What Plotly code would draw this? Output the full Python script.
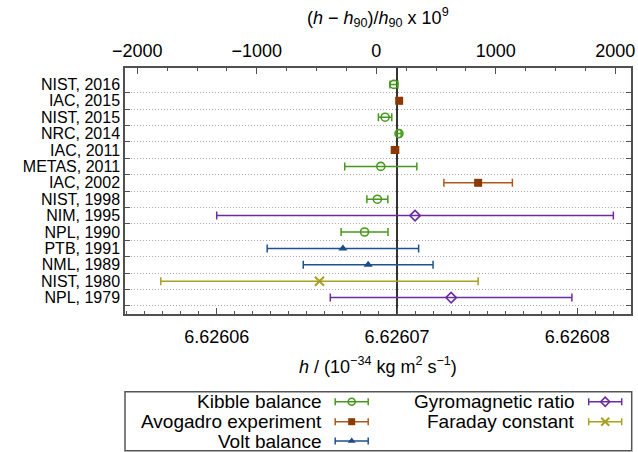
import plotly.graph_objects as go

# ---------------- data ----------------
labels = ["NIST, 2016", "IAC, 2015", "NIST, 2015", "NRC, 2014", "IAC, 2011",
          "METAS, 2011", "IAC, 2002", "NIST, 1998", "NIM, 1995", "NPL, 1990",
          "PTB, 1991", "NML, 1989", "NIST, 1980", "NPL, 1979"]
methods = ["kibble", "avogadro", "kibble", "kibble", "avogadro",
           "kibble", "avogadro", "kibble", "gyro", "kibble",
           "volt", "volt", "faraday", "gyro"]
# h in units of 1e-34 kg m^2 s^-1
h_values = [6.62606983, 6.62607012, 6.62606934, 6.62607011, 6.62606989,
            6.6260691, 6.6260745, 6.62606891, 6.6260710, 6.6260682,
            6.6260670, 6.6260684, 6.6260657, 6.6260730]
h_unc = [0.00000022, 0.00000012, 0.00000037, 0.00000012, 0.00000020,
         0.0000020, 0.0000019, 0.00000058, 0.0000110, 0.0000013,
         0.0000042, 0.0000036, 0.0000088, 0.0000067]
h90 = 6.62606885          # conventional value from K_J-90, R_K-90
ref_value = 6.62607       # vertical reference line
bottom_ticks = [6.62606, 6.62607, 6.62608]
top_ticks = [-2000, -1000, 0, 1000, 2000]

method_order = ["kibble", "avogadro", "volt", "gyro", "faraday"]
method_names = {"kibble": "Kibble balance", "avogadro": "Avogadro experiment",
                "volt": "Volt balance", "gyro": "Gyromagnetic ratio",
                "faraday": "Faraday constant"}

# ---------------- styles ----------------
styles = {
    "kibble":   dict(bar="#47981e", symbol="circle-open", size=8, fill="#47981e", lw=1.6),
    "avogadro": dict(bar="#b0581a", symbol="square", size=8, fill="#8a3a02", lw=0),
    "volt":     dict(bar="#21508f", symbol="triangle-up", size=8, fill="#1d4a88", lw=0),
    "gyro":     dict(bar="#6a2ca0", symbol="diamond-open", size=8, fill="#6a2ca0", lw=1.6),
    "faraday":  dict(bar="#a8a020", symbol="x-thin-open", size=9, fill="#a8a020", lw=2),
}

W, H = 638, 452
FL, FR, FT, FB = 125, 631, 68, 314     # frame in pixels
FONT = "Liberation Sans, Arial, sans-serif"

x_range = [6.626054914, 6.626082978]
x2_range = [(v - h90) / h90 * 1e9 for v in x_range]
y_range = [14.0, -1.0]
grid_vals = [i + 0.5 for i in range(len(labels))]

fig = go.Figure()

for m in method_order:
    idx = [i for i, mm in enumerate(methods) if mm == m]
    st = styles[m]
    fig.add_trace(go.Scatter(
        x=[h_values[i] for i in idx],
        y=idx,
        mode="markers",
        marker=dict(symbol=st["symbol"], size=st["size"], color=st["fill"],
                    line=dict(color=st["fill"], width=st["lw"])),
        error_x=dict(type="data", array=[h_unc[i] for i in idx], visible=True,
                     color=st["bar"], thickness=1.5, width=4),
        showlegend=False, hoverinfo="skip",
    ))

# dummy traces to activate top and right axes
fig.add_trace(go.Scatter(x=x2_range, y=[None, None], xaxis="x2", yaxis="y",
                         mode="markers", showlegend=False, hoverinfo="skip"))
fig.add_trace(go.Scatter(x=[None], y=[None], xaxis="x", yaxis="y4",
                         mode="markers", showlegend=False, hoverinfo="skip"))

# ---------------- custom legend (gnuplot style: text then sample) ----------------
leg_rows = [401.7, 421.7, 441.0]
leg_cols = [(324, 351.7), (577.3, 605.2)]
leg_slots = {"kibble": (0, 0), "avogadro": (0, 1), "volt": (0, 2),
             "gyro": (1, 0), "faraday": (1, 1)}
annotations = []
for m in method_order:
    c, r = leg_slots[m]
    tx, sx = leg_cols[c]
    y = leg_rows[r]
    st = styles[m]
    fig.add_trace(go.Scatter(
        x=[sx], y=[y], xaxis="x3", yaxis="y3", mode="markers",
        marker=dict(symbol=st["symbol"], size=st["size"] - 1, color=st["fill"],
                    line=dict(color=st["fill"], width=st["lw"])),
        error_x=dict(type="constant", value=16.5, visible=True, color=st["bar"],
                     thickness=1.5, width=3.5),
        showlegend=False, hoverinfo="skip"))
    annotations.append(dict(x=tx / W, y=1 - y / H, xref="paper", yref="paper",
                            text=method_names[m], showarrow=False,
                            xanchor="right", yanchor="middle",
                            font=dict(size=19, color="black", family=FONT)))

# axis titles
annotations.append(dict(x=378 / W, y=1 - 18 / H, xref="paper", yref="paper",
                        text="(<i>h</i> \u2212 <i>h</i><sub>90</sub>)/<i>h</i><sub>90</sub> x 10<sup>9</sup>",
                        showarrow=False, xanchor="center", yanchor="middle",
                        font=dict(size=18, color="black", family=FONT)))
annotations.append(dict(x=378 / W, y=1 - 365 / H, xref="paper", yref="paper",
                        text="<i>h</i> / (10<sup>\u221234</sup> kg m<sup>2</sup> s<sup>\u22121</sup>)",
                        showarrow=False, xanchor="center", yanchor="middle",
                        font=dict(size=18, color="black", family=FONT)))

shapes = [
    dict(type="line", xref="x", yref="paper", x0=ref_value, x1=ref_value,
         y0=1 - FB / H, y1=1 - FT / H, line=dict(color="#333333", width=2), layer="below"),
    dict(type="rect", xref="paper", yref="paper", x0=FL / W, x1=631.7 / W,
         y0=1 - 450.7 / H, y1=1 - 391.7 / H, line=dict(color="#555555", width=1.5)),
]

frame_col = "#505050"
ydom = [1 - FB / H, 1 - FT / H]
fig.update_layout(
    width=W, height=H, autosize=False,
    margin=dict(l=0, r=0, t=0, b=0, pad=0),
    paper_bgcolor="white", plot_bgcolor="rgba(0,0,0,0)",
    font=dict(family=FONT, size=18, color="black"),
    showlegend=False,
    xaxis=dict(domain=[FL / W, FR / W], range=x_range, anchor="y",
               tickmode="array", tickvals=bottom_ticks,
               ticktext=["%.5f" % v for v in bottom_ticks],
               ticks="inside", ticklen=6, tickwidth=1, tickcolor=frame_col,
               minor=dict(tick0=6.62606, dtick=0.000001, ticks="inside", ticklen=3,
                          tickcolor=frame_col, showgrid=False),
               showline=True, linecolor=frame_col, linewidth=1.5, mirror=True,
               showgrid=False, zeroline=False, automargin=False,
               tickfont=dict(size=18), ticklabelstandoff=6),
    xaxis2=dict(overlaying="x", side="top", anchor="y", range=x2_range,
                tickmode="array", tickvals=top_ticks,
                ticks="inside", ticklen=6, tickwidth=1, tickcolor=frame_col,
                minor=dict(tick0=0, dtick=250, ticks="inside", ticklen=3,
                           tickcolor=frame_col, showgrid=False),
                showline=False, showgrid=False, zeroline=False, automargin=False,
                tickfont=dict(size=18), ticklabelstandoff=6),
    yaxis=dict(domain=ydom, range=y_range, anchor="x",
               tickmode="array", tickvals=list(range(len(labels))), ticktext=labels,
               ticks="", showgrid=False,
               minor=dict(tickmode="array", tickvals=grid_vals,
                          ticks="inside", ticklen=5, tickcolor=frame_col,
                          showgrid=True, griddash="1px,2px", gridcolor="#a8a8a8", gridwidth=1),
               showline=True, linecolor=frame_col, linewidth=1.5, mirror=True,
               zeroline=False, automargin=False, tickfont=dict(size=16),
               ticklabelstandoff=0),
    yaxis4=dict(overlaying="y", side="right", anchor="x", range=y_range,
                tickmode="array", tickvals=[], showticklabels=False, ticks="",
                showgrid=False, zeroline=False, showline=False, automargin=False,
                minor=dict(tickmode="array", tickvals=grid_vals,
                           ticks="inside", ticklen=5, tickcolor=frame_col,
                           showgrid=False)),
    xaxis3=dict(domain=[0, 1], range=[0, W], anchor="y3", visible=False),
    yaxis3=dict(domain=[0, 1], range=[H, 0], anchor="x3", visible=False),
    annotations=annotations,
    shapes=shapes,
)

fig.write_html("out.html")
